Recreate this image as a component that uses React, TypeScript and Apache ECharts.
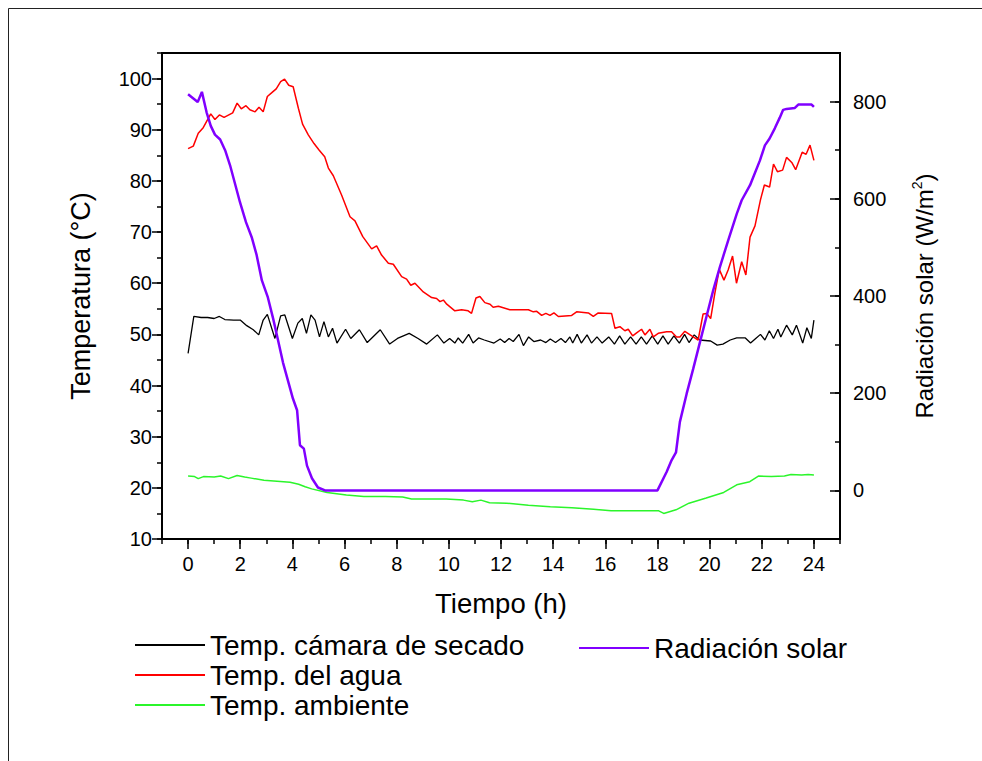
import React, { useEffect, useRef } from "react";
import * as echarts from "echarts";

// ---- data (hours, values) ----
const camaraHours = [0.0, 0.22, 0.5, 0.75, 1.0, 1.2, 1.41, 1.75, 2.0, 2.25, 2.5, 2.71, 2.88, 3.04, 3.33, 3.55, 3.71, 4.0, 4.21, 4.38, 4.54, 4.71, 4.87, 5.04, 5.21, 5.38, 5.54, 5.71, 6.04, 6.24, 6.57, 6.87, 7.37, 7.73, 8.03, 8.48, 8.82, 9.15, 9.56, 9.81, 10.03, 10.23, 10.36, 10.53, 10.76, 10.93, 11.14, 11.36, 11.73, 11.97, 12.14, 12.31, 12.47, 12.69, 12.86, 13.06, 13.26, 13.52, 13.72, 13.89, 14.09, 14.3, 14.47, 14.64, 14.75, 14.92, 15.08, 15.3, 15.47, 15.68, 15.88, 16.13, 16.35, 16.55, 16.75, 16.97, 17.18, 17.38, 17.58, 17.8, 18.01, 18.21, 18.41, 18.63, 18.84, 19.04, 19.21, 19.41, 19.62, 20.04, 20.29, 20.51, 20.79, 21.04, 21.37, 21.57, 21.79, 21.95, 22.12, 22.29, 22.45, 22.62, 22.73, 22.95, 23.17, 23.33, 23.57, 23.73, 23.9, 24.0];
const camaraTemp = [46.3, 53.5, 53.3, 53.3, 53.1, 53.5, 52.9, 52.8, 52.8, 51.7, 50.9, 49.9, 52.8, 53.9, 49.2, 53.6, 53.8, 49.2, 52.2, 53.1, 50.2, 53.8, 52.8, 49.5, 52.5, 49.5, 51.2, 48.3, 51.0, 49.2, 50.9, 48.4, 50.9, 48.1, 49.2, 50.2, 49.2, 48.1, 49.9, 48.3, 49.2, 48.3, 49.3, 48.3, 50.0, 48.3, 49.3, 48.9, 48.3, 49.1, 48.4, 49.2, 48.6, 50.0, 47.8, 49.5, 48.6, 48.9, 48.4, 49.1, 48.4, 49.2, 48.4, 49.5, 48.3, 50.0, 48.3, 49.9, 48.3, 49.5, 48.3, 49.5, 48.1, 49.7, 48.1, 49.5, 48.1, 49.5, 48.1, 49.7, 48.1, 49.7, 48.1, 49.7, 48.3, 50.0, 48.4, 49.9, 48.9, 48.7, 47.9, 48.1, 48.9, 49.3, 49.3, 48.3, 49.3, 50.0, 48.9, 50.7, 49.2, 51.0, 49.5, 51.8, 49.9, 51.8, 48.3, 51.3, 49.2, 52.8];

const aguaHours = [0.0, 0.2, 0.39, 0.58, 0.87, 1.03, 1.2, 1.38, 1.71, 1.88, 2.04, 2.22, 2.37, 2.57, 2.72, 2.88, 3.04, 3.2, 3.38, 3.55, 3.7, 3.86, 4.03, 4.23, 4.39, 4.61, 4.83, 5.03, 5.24, 5.38, 5.57, 5.89, 6.21, 6.4, 6.7, 7.04, 7.23, 7.42, 7.68, 7.87, 8.19, 8.38, 8.54, 8.7, 9.02, 9.34, 9.53, 9.66, 9.79, 9.92, 10.23, 10.49, 10.74, 10.87, 11.04, 11.19, 11.38, 11.58, 11.7, 11.9, 12.34, 13.05, 13.24, 13.37, 13.56, 13.72, 13.88, 14.03, 14.2, 14.71, 14.9, 15.35, 15.54, 15.73, 16.24, 16.37, 16.56, 16.75, 16.88, 17.05, 17.2, 17.39, 17.52, 17.71, 17.84, 18.03, 18.35, 18.54, 18.73, 18.86, 19.05, 19.37, 19.56, 19.75, 19.89, 20.04, 20.2, 20.37, 20.55, 20.71, 20.88, 21.03, 21.23, 21.39, 21.55, 21.74, 21.95, 22.1, 22.3, 22.45, 22.6, 22.8, 22.95, 23.15, 23.3, 23.55, 23.7, 23.85, 24.0];
const aguaTemp = [86.3, 86.8, 89.3, 90.4, 93.1, 92.0, 92.9, 92.4, 93.3, 95.2, 94.1, 94.7, 93.9, 93.5, 94.4, 93.5, 96.5, 97.2, 98.0, 99.4, 99.9, 98.7, 98.4, 94.2, 91.1, 89.0, 87.3, 86.0, 84.7, 82.5, 81.0, 77.2, 73.0, 72.2, 69.1, 66.7, 67.3, 65.5, 63.9, 63.7, 61.3, 60.8, 59.6, 60.0, 58.3, 57.2, 57.0, 56.4, 56.7, 55.9, 54.6, 54.8, 54.6, 54.1, 57.1, 57.4, 56.2, 55.9, 55.3, 55.5, 54.8, 54.8, 54.4, 54.5, 53.7, 54.1, 53.7, 54.2, 53.5, 53.7, 54.4, 54.2, 53.5, 54.2, 54.1, 51.2, 51.5, 50.7, 51.0, 49.7, 50.3, 51.0, 49.9, 51.0, 49.5, 50.2, 50.5, 50.5, 49.5, 49.5, 50.6, 49.5, 48.9, 54.0, 54.1, 53.1, 58.0, 62.7, 60.6, 62.6, 65.3, 60.0, 64.2, 61.6, 69.0, 71.2, 76.3, 79.2, 78.8, 83.3, 81.8, 82.1, 84.6, 83.6, 82.2, 85.6, 85.2, 87.0, 84.0];

const ambienteHours = [0.0, 0.25, 0.39, 0.59, 1.0, 1.25, 1.55, 1.88, 2.17, 2.42, 2.91, 3.41, 3.91, 4.24, 4.49, 4.74, 5.33, 6.07, 6.74, 7.57, 8.23, 8.57, 9.4, 9.9, 10.56, 10.9, 11.23, 11.56, 12.22, 13.05, 13.89, 14.72, 15.55, 16.22, 18.05, 18.24, 18.71, 19.21, 19.87, 20.54, 21.04, 21.54, 21.87, 22.37, 22.87, 23.12, 23.53, 23.78, 24.0];
const ambienteTemp = [22.3, 22.2, 21.8, 22.2, 22.1, 22.3, 21.8, 22.4, 22.1, 21.9, 21.5, 21.3, 21.1, 20.7, 20.2, 19.8, 19.1, 18.6, 18.3, 18.3, 18.2, 17.8, 17.8, 17.8, 17.6, 17.3, 17.6, 17.1, 17.0, 16.6, 16.3, 16.1, 15.8, 15.5, 15.5, 15.0, 15.7, 17.0, 18.0, 19.1, 20.6, 21.2, 22.3, 22.2, 22.3, 22.6, 22.5, 22.6, 22.5];

const radHours = [0.0, 0.37, 0.53, 0.71, 0.87, 1.03, 1.23, 1.42, 1.61, 1.8, 1.99, 2.22, 2.44, 2.63, 2.83, 3.06, 3.26, 3.45, 3.64, 3.83, 4.02, 4.18, 4.29, 4.44, 4.56, 4.75, 4.98, 5.25, 18.0, 18.35, 18.54, 18.71, 18.86, 19.12, 19.37, 19.63, 19.89, 20.14, 20.39, 20.71, 21.04, 21.23, 21.55, 21.93, 22.12, 22.3, 22.5, 22.69, 22.82, 22.95, 23.27, 23.4, 23.91, 24.0];
const radValues = [815, 799, 820, 778, 750, 732, 722, 700, 669, 631, 593, 552, 521, 484, 432, 397, 354, 309, 263, 226, 189, 165, 93, 86, 51, 25, 6, 0, 0, 38, 62, 78, 141, 199, 250, 305, 360, 412, 459, 514, 569, 597, 628, 679, 710, 724, 745, 767, 783, 785, 787, 794, 794, 789];

const seriesNames = ["Temp. cámara de secado", "Temp. del agua", "Temp. ambiente", "Radiación solar"];

// axis ranges
const xMin = -1, xMax = 25;
const xLabelMin = 0, xLabelMax = 24;
const tMin = 10, tMax = 105, tLabelMax = 100;
const rMin = -100, rMax = 900, rLabelMin = 0, rLabelMax = 800;

const pairs = (h: number[], v: number[]) => h.map((x, i) => [x, v[i]]);

const FONT = "Liberation Sans, Arial, sans-serif";

export default function App() {
  const ref = useRef<HTMLDivElement>(null);
  useEffect(() => {
    document.body.style.margin = "0";
    if (!ref.current) return;
    const chart = echarts.init(ref.current, undefined, { renderer: "svg" });

    const L = 162, T = 53, W = 678, H = 486;
    const pxPerHour = W / (xMax - xMin);
    const axisLine = { show: true, onZero: false, lineStyle: { color: "#000", width: 2 } };
    const noLine = { show: false, onZero: false };
    const minorTick = (inside: boolean) => ({ show: true, inside, length: 5, lineStyle: { color: "#000", width: 1.5 } });
    const majorTick = (inside: boolean) => ({ show: true, inside, length: 10, lineStyle: { color: "#000", width: 1.5 } });
    const labelStyle = { color: "#000", fontSize: 20, fontFamily: FONT };
    const legendCommon = {
      orient: "vertical", itemWidth: 70, itemHeight: 14, itemGap: 0, padding: 0, selectedMode: false,
      itemStyle: { opacity: 0 },
      textStyle: { fontSize: 28, lineHeight: 30, color: "#000", fontFamily: FONT },
    };

    const option: any = {
      animation: false,
      backgroundColor: "#fff",
      textStyle: { fontFamily: FONT },
      graphic: [
        {
          type: "polyline", shape: { points: [[8.5, 761], [8.5, 8.5], [982, 8.5]] },
          style: { fill: "none", stroke: "#222", lineWidth: 1 }, silent: true,
        },
      ],
      grid: [
        { left: L, top: T, width: W, height: H, show: true, borderColor: "#000", borderWidth: 2, backgroundColor: "transparent" },
        { left: L + pxPerHour * (xLabelMin - xMin), top: T, width: pxPerHour * (xLabelMax - xLabelMin), height: H },
        { left: L, top: T + H * (tMax - tLabelMax) / (tMax - tMin), width: W, height: H * (tLabelMax - tMin) / (tMax - tMin) },
        { left: L, top: T + H * (rMax - rLabelMax) / (rMax - rMin), width: W, height: H * (rLabelMax - rLabelMin) / (rMax - rMin) },
      ],
      xAxis: [
        {
          gridIndex: 0, type: "value", min: xMin, max: xMax, interval: 1, position: "bottom",
          axisLine, axisTick: minorTick(false), axisLabel: { show: false }, splitLine: { show: false },
          name: "Tiempo (h)", nameLocation: "middle", nameGap: 50,
          nameTextStyle: { fontSize: 27.5, color: "#000", fontFamily: FONT },
        },
        {
          gridIndex: 1, type: "value", min: xLabelMin, max: xLabelMax, interval: 2, position: "bottom",
          axisLine: noLine, axisTick: majorTick(false),
          axisLabel: { ...labelStyle, margin: 15 }, splitLine: { show: false },
        },
        { gridIndex: 2, type: "value", show: false },
        { gridIndex: 3, type: "value", show: false },
      ],
      yAxis: [
        {
          gridIndex: 0, type: "value", min: tMin, max: tMax, interval: 5, position: "left",
          axisLine, axisTick: minorTick(false), axisLabel: { show: false }, splitLine: { show: false },
          name: "Temperatura (°C)", nameLocation: "middle", nameRotate: 90, nameGap: 68,
          nameTextStyle: { fontSize: 27, color: "#000", fontFamily: FONT },
        },
        {
          gridIndex: 0, type: "value", min: rMin, max: rMax, interval: 100, position: "right",
          axisLine, axisTick: minorTick(true), axisLabel: { show: false }, splitLine: { show: false },
          name: "Radiación solar (W/m{sup|2})", nameLocation: "middle", nameRotate: 90, nameGap: 70,
          nameTextStyle: {
            fontSize: 24, color: "#000", fontFamily: FONT, lineHeight: 28,
            rich: { sup: { fontSize: 14, color: "#000", fontFamily: FONT, verticalAlign: "top", lineHeight: 14 } },
          },
        },
        {
          gridIndex: 2, type: "value", min: tMin, max: tLabelMax, interval: 10, position: "left",
          axisLine: noLine, axisTick: majorTick(false),
          axisLabel: { ...labelStyle, margin: 10 }, splitLine: { show: false },
        },
        {
          gridIndex: 3, type: "value", min: rLabelMin, max: rLabelMax, interval: 200, position: "right",
          axisLine: noLine, axisTick: majorTick(true),
          axisLabel: { ...labelStyle, margin: 13 }, splitLine: { show: false },
        },
        { gridIndex: 1, type: "value", show: false },
      ],
      legend: [
        { ...legendCommon, data: seriesNames.slice(0, 3), left: 134, top: 630 },
        { ...legendCommon, data: seriesNames.slice(3), left: 578, top: 633 },
      ],
      series: [
        {
          name: seriesNames[0], type: "line", xAxisIndex: 0, yAxisIndex: 0, symbol: "none",
          data: pairs(camaraHours, camaraTemp), color: "#000", lineStyle: { color: "#000", width: 1.3 }, z: 3,
        },
        {
          name: seriesNames[1], type: "line", xAxisIndex: 0, yAxisIndex: 0, symbol: "none",
          data: pairs(aguaHours, aguaTemp), color: "#ff0000", lineStyle: { color: "#ff0000", width: 1.5 }, z: 4,
        },
        {
          name: seriesNames[2], type: "line", xAxisIndex: 0, yAxisIndex: 0, symbol: "none",
          data: pairs(ambienteHours, ambienteTemp), color: "#2bf52b", lineStyle: { color: "#2bf52b", width: 1.5 }, z: 3,
        },
        {
          name: seriesNames[3], type: "line", xAxisIndex: 0, yAxisIndex: 1, symbol: "none",
          data: pairs(radHours, radValues), color: "#8000ff", lineStyle: { color: "#8000ff", width: 2.5 }, z: 5,
        },
      ],
    };
    chart.setOption(option);
    return () => chart.dispose();
  }, []);
  return <div ref={ref} style={{ width: 982, height: 761 }} />;
}
